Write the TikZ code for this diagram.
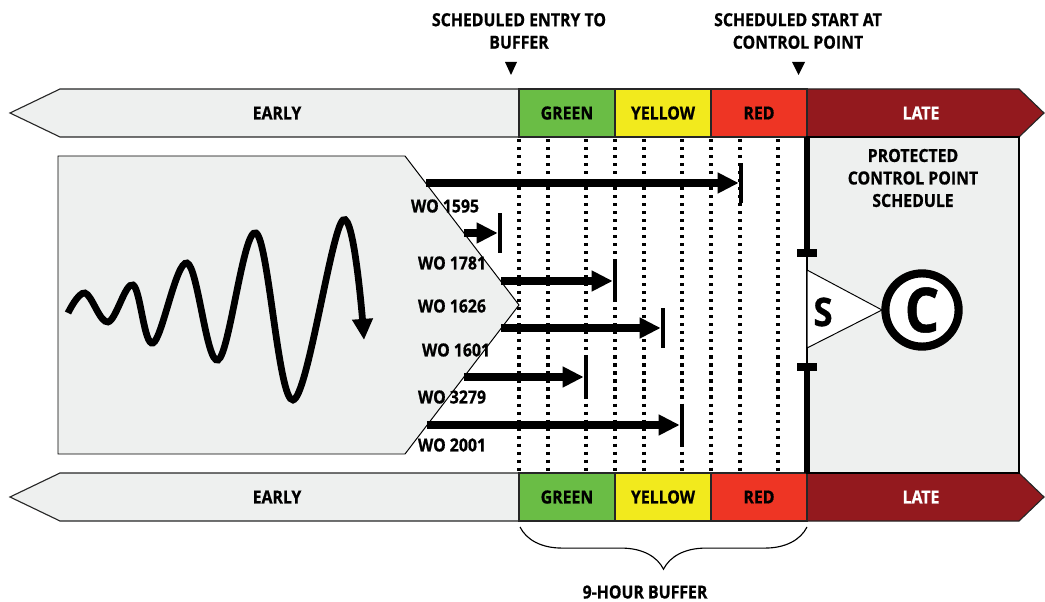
\documentclass[tikz,border=0pt]{standalone}
\usepackage{fontspec}
\setmainfont{Open Sans}[FakeStretch=0.88, BoldFeatures={FakeBold=0.8}]
\usepackage{tikz}
\usetikzlibrary{arrows.meta,decorations.pathreplacing,calc}
\definecolor{bandgrey}{RGB}{238,240,239}
\definecolor{bufgreen}{RGB}{106,189,69}
\definecolor{bufyellow}{RGB}{242,234,29}
\definecolor{bufred}{RGB}{238,53,36}
\definecolor{latered}{RGB}{147,25,30}

\begin{document}
\begin{tikzpicture}[x=0.025cm, y=-0.025cm,
  lbl/.style={font=\bfseries\fontsize{12.8}{16}\selectfont, align=center, inner sep=0pt},
  seg/.style={lbl, draw=black!85, line width=0.8pt, minimum width=2.4cm, minimum height=1.2cm},
  band/.style={draw=black!85, line width=0.8pt},
  dotline/.style={line width=2.2pt, dash pattern=on 2.2pt off 3.5pt},
  wo/.style={line width=5pt, -{Triangle[length=15pt,width=14pt]}},
  bar/.style={fill=black, minimum width=0.1cm, minimum height=0.975cm, inner sep=0pt}]
\useasboundingbox (0,0) rectangle (1045,602);

% early / buffer / late bands
\foreach \y/\p in {113/t,497/b}{
  \draw[band, fill=bandgrey] (519,\y-24) -- (60,\y-24) -- (10,\y) -- (60,\y+24) -- (519,\y+24) -- cycle;
  \draw[band, fill=latered] (807,\y-24) -- (1019,\y-24) -- (1044,\y) -- (1019,\y+24) -- (807,\y+24) -- cycle;
  \node[lbl] (early\p) at (277,\y) {EARLY};
  \node[seg, fill=bufgreen] (green\p) at (567,\y) {GREEN};
  \node[seg, fill=bufyellow] (yellow\p) at (663,\y) {YELLOW};
  \node[seg, fill=bufred] (red\p) at (759,\y) {RED};
  \node[lbl, text=white] (late\p) at (921,\y) {LATE};
}

\node[lbl] (entry) at (519,31) {SCHEDULED ENTRY TO\\BUFFER};
\node[lbl] (start) at (798,31) {SCHEDULED START AT\\CONTROL POINT};
\fill (505,62) -- (517,62) -- (511,75) -- cycle;
\fill (792,62) -- (805,62) -- (798.5,75) -- cycle;

% release gate
\draw[fill=bandgrey, line width=0.7pt] (58,156) -- (405,156) -- (519,305) -- (405,454) -- (58,454) -- cycle;
\draw[line width=4.8pt, -{Triangle[length=15pt,width=14pt]}] plot[smooth, tension=0.6] coordinates {(68,313) (85,293) (108,322) (133,285) (153,343) (187,263) (218,360) (256,233) (293,400) (343,220) (364,340)};

% protected schedule
\draw[fill=bandgrey, line width=0.8pt] (807,137) rectangle (1019,473);
\node[lbl] (prot) at (913,178) {PROTECTED\\CONTROL POINT\\SCHEDULE};

\foreach \x in {519,548,586,615,644,682,711,740,778}
  \draw[dotline] (\x,139) -- (\x,473);

\draw[line width=4.2pt] (807,137) -- (807,253);
\draw[line width=4.2pt] (807,367) -- (807,473);
\draw[line width=5pt] (797,253) -- (817,253);
\draw[line width=5pt] (797,367) -- (817,367);
\draw[fill=white, line width=0.7pt] (807,270) -- (882,310) -- (807,348) -- cycle;
\node[font=\bfseries\fontsize{28}{28}\selectfont, inner sep=0pt] (sbuf) at (823,312) {S};
\node[circle, draw, fill=white, line width=5.8pt, minimum size=1.83cm, inner sep=0pt,
  font=\bfseries\fontsize{44}{44}\selectfont] (cpt) at (922,310) {C};

% work orders
\foreach \n/\xs/\xb/\y in {1/426/741/183, 2/464/500/233, 3/501/615/281, 4/501/663/328, 5/464/586/377, 6/427/682/425}{
  \coordinate (s\n) at (\xs,\y);
  \node[bar] (b\n) at (\xb,\y) {};
  \draw[wo] (s\n) -- (b\n);
}
\node[lbl] (wo1595) at (445,206) {WO 1595};
\node[lbl] (wo1781) at (452,263) {WO 1781};
\node[lbl] (wo1626) at (452,306) {WO 1626};
\node[lbl] (wo1601) at (456,350) {WO 1601};
\node[lbl] (wo3279) at (452,397) {WO 3279};
\node[lbl] (wo2001) at (452,445) {WO 2001};

\draw[decorate, decoration={brace, mirror, amplitude=30pt}, line width=0.8pt] (520,527) -- (807,527);
\node[lbl] (buf) at (645,592) {9-HOUR BUFFER};
\end{tikzpicture}
\end{document}
